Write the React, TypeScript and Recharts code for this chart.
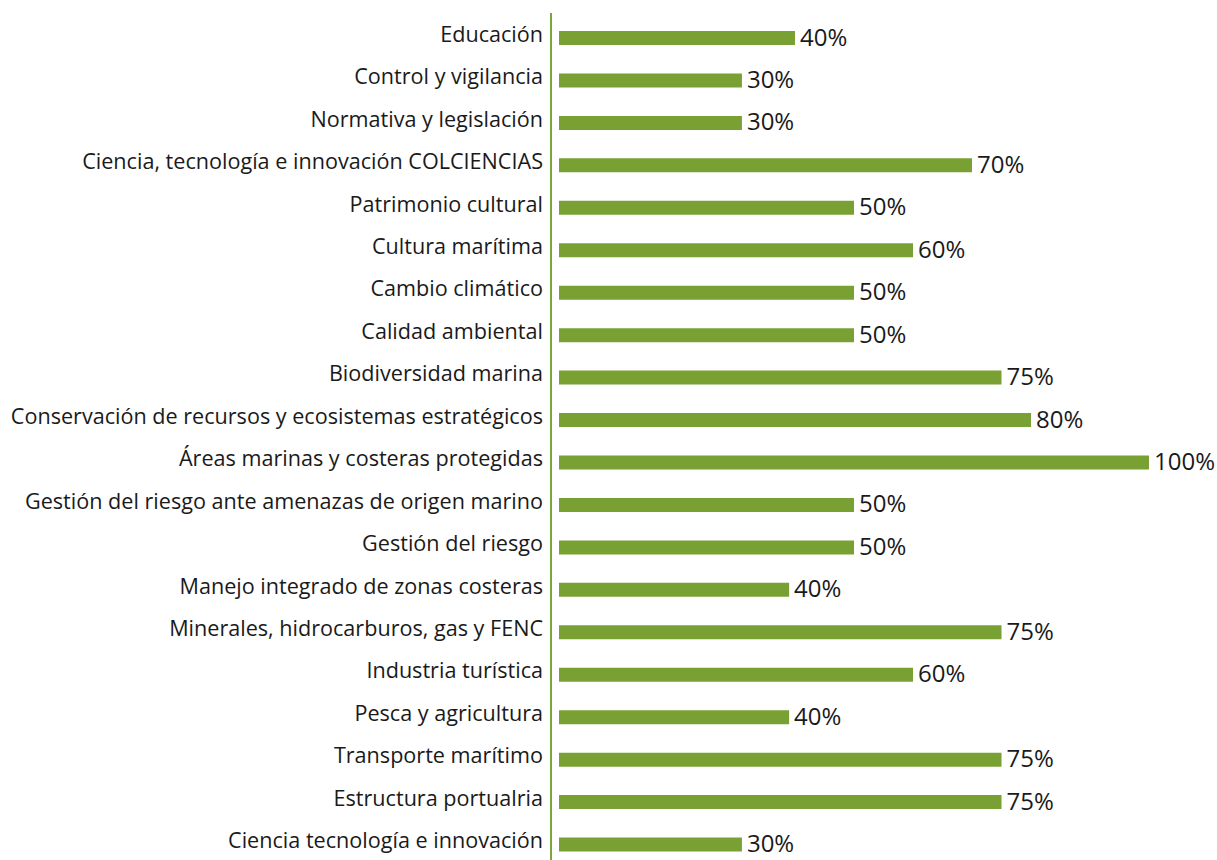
import React from 'react';
import { BarChart, Bar, XAxis, YAxis, LabelList } from 'recharts';

const categories = [
  'Educación',
  'Control y vigilancia',
  'Normativa y legislación',
  'Ciencia, tecnología e innovación COLCIENCIAS',
  'Patrimonio cultural',
  'Cultura marítima',
  'Cambio climático',
  'Calidad ambiental',
  'Biodiversidad marina',
  'Conservación de recursos y ecosistemas estratégicos',
  'Áreas marinas y costeras protegidas',
  'Gestión del riesgo ante amenazas de origen marino',
  'Gestión del riesgo',
  'Manejo integrado de zonas costeras',
  'Minerales, hidrocarburos, gas y FENC',
  'Industria turística',
  'Pesca y agricultura',
  'Transporte marítimo',
  'Estructura portualria',
  'Ciencia tecnología e innovación',
];

const values = [40, 31, 31, 70, 50, 60, 50, 50, 75, 80, 100, 50, 50, 39, 75, 60, 39, 75, 75, 31];

const valueLabels = ['40%', '30%', '30%', '70%', '50%', '60%', '50%', '50%', '75%', '80%', '100%', '50%', '50%', '40%', '75%', '60%', '40%', '75%', '75%', '30%'];

const xDomain: [number, number] = [-1.36, 100];

const data = categories.map((name, i) => ({ name, value: values[i], label: valueLabels[i] }));

const FONT = '"Open Sans", "Noto Sans", sans-serif';
const GREEN = '#78A032';

const CategoryTick = (props: any) => {
  const { x, y, payload } = props;
  return (
    <text x={x} y={y} dy={3.5} textAnchor="end" fontFamily={FONT} fontSize={21.6} fill="#1a1a1a">
      {payload.value}
    </text>
  );
};

const ValueLabel = (props: any) => {
  const { x, y, width, height, value } = props;
  return (
    <text x={x + width + 5} y={y + height / 2 + 7.5} textAnchor="start" fontFamily={FONT} fontSize={24} fill="#1a1a1a">
      {value}
    </text>
  );
};

export default function App() {
  return (
    <div style={{ position: 'absolute', left: 0, top: 0, width: 1217, height: 860, overflow: 'hidden', background: '#fff' }}>
      <BarChart
        width={1217}
        height={868}
        data={data}
        layout="vertical"
        margin={{ top: 13, right: 68, bottom: 2, left: 0 }}
        barCategoryGap={0}
      >
        <XAxis type="number" domain={xDomain} hide allowDataOverflow />
        <YAxis
          type="category"
          dataKey="name"
          width={551}
          axisLine={{ stroke: '#7AA63A', strokeWidth: 2 }}
          tickLine={false}
          tick={<CategoryTick />}
          interval={0}
          padding={{ top: 4, bottom: 0 }}
        />
        <Bar dataKey="value" fill={GREEN} barSize={14} isAnimationActive={false}>
          <LabelList dataKey="label" content={<ValueLabel />} />
        </Bar>
      </BarChart>
    </div>
  );
}
